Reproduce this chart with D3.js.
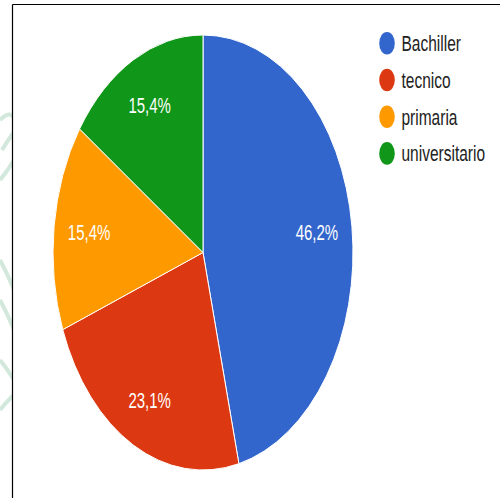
<!DOCTYPE html>
<html>
<head>
<meta charset="utf-8">
<script src="https://cdn.jsdelivr.net/npm/d3@7"></script>
<style>
  html, body { margin: 0; padding: 0; background: #fff; }
  svg { display: block; }
</style>
</head>
<body>
<svg id="chart" width="500" height="498"></svg>
<script>
const categories = ["Bachiller", "tecnico", "primaria", "universitario"];
const values = [6, 3, 2, 2];
const labels = ["46,2%", "23,1%", "15,4%", "15,4%"];
const colors = ["#3366cc", "#dc3912", "#ff9900", "#109618"];

const W = 500, H = 498;
const sy = 1.45;             // picture is stretched vertically
const cx = 203, cyPx = 252.5, R = 150;
const cy = cyPx / sy;

const svg = d3.select("#chart");

// faint watermark at the far left edge (decoration)
const wm = svg.append("g").attr("fill", "none").attr("stroke", "#d3e8dc").attr("stroke-width", 4);
const clip = svg.append("clipPath").attr("id", "wmclip");
clip.append("rect").attr("x", 0).attr("y", 0).attr("width", 12).attr("height", H);
wm.attr("clip-path", "url(#wmclip)");
wm.append("path").attr("d", "M0,120 Q10,110 14,118");
wm.append("path").attr("d", "M2,150 Q8,140 14,132");
wm.append("path").attr("d", "M0,180 Q8,170 14,160");
wm.append("path").attr("d", "M0,260 Q8,275 14,290");
wm.append("path").attr("d", "M0,300 Q8,315 14,330");
wm.append("path").attr("d", "M0,360 Q8,370 14,380");
wm.append("path").attr("d", "M0,410 Q8,400 14,395");

// frame lines
svg.append("line").attr("x1", 12.5).attr("y1", 4.5).attr("x2", W).attr("y2", 4.5)
  .attr("stroke", "#000").attr("stroke-width", 1.2);
svg.append("line").attr("x1", 12.5).attr("y1", 4.5).attr("x2", 12.5).attr("y2", H)
  .attr("stroke", "#000").attr("stroke-width", 1.2);

const g = svg.append("g").attr("transform", `scale(1,${sy})`);
const pieG = g.append("g").attr("transform", `translate(${cx},${cy})`);

const data = categories.map((c, i) => ({ name: c, value: values[i], label: labels[i], color: colors[i] }));
const pie = d3.pie().value(d => d.value).sort(null);
const arcs = pie(data);
const arc = d3.arc().innerRadius(0).outerRadius(R);
const labelArc = d3.arc().innerRadius(R * 0.765).outerRadius(R * 0.765);

pieG.selectAll("path.slice").data(arcs).join("path")
  .attr("class", "slice")
  .attr("d", arc)
  .attr("fill", d => d.data.color)
  .attr("stroke", "#fff")
  .attr("stroke-width", 1)
  .attr("vector-effect", "non-scaling-stroke");

pieG.selectAll("text.lbl").data(arcs).join("text")
  .attr("class", "lbl")
  .attr("transform", d => { const [x, y] = labelArc.centroid(d); return `translate(${x},${y})`; })
  .attr("text-anchor", "middle")
  .attr("dy", "0.36em")
  .attr("fill", "#fff")
  .attr("font-family", "Liberation Sans, Arial, sans-serif")
  .attr("font-size", 15)
  .text(d => d.data.label);

// legend
const legend = g.append("g").attr("transform", `translate(387,${43.3 / sy})`);
const step = 36.7 / sy;
const items = legend.selectAll("g").data(data).join("g")
  .attr("transform", (d, i) => `translate(0,${i * step})`);
items.append("circle").attr("r", 7.8).attr("fill", d => d.color);
items.append("text")
  .attr("x", 14.5)
  .attr("dy", "0.36em")
  .attr("fill", "#222")
  .attr("font-family", "Liberation Sans, Arial, sans-serif")
  .attr("font-size", 15.5)
  .text(d => d.name);
</script>
</body>
</html>
